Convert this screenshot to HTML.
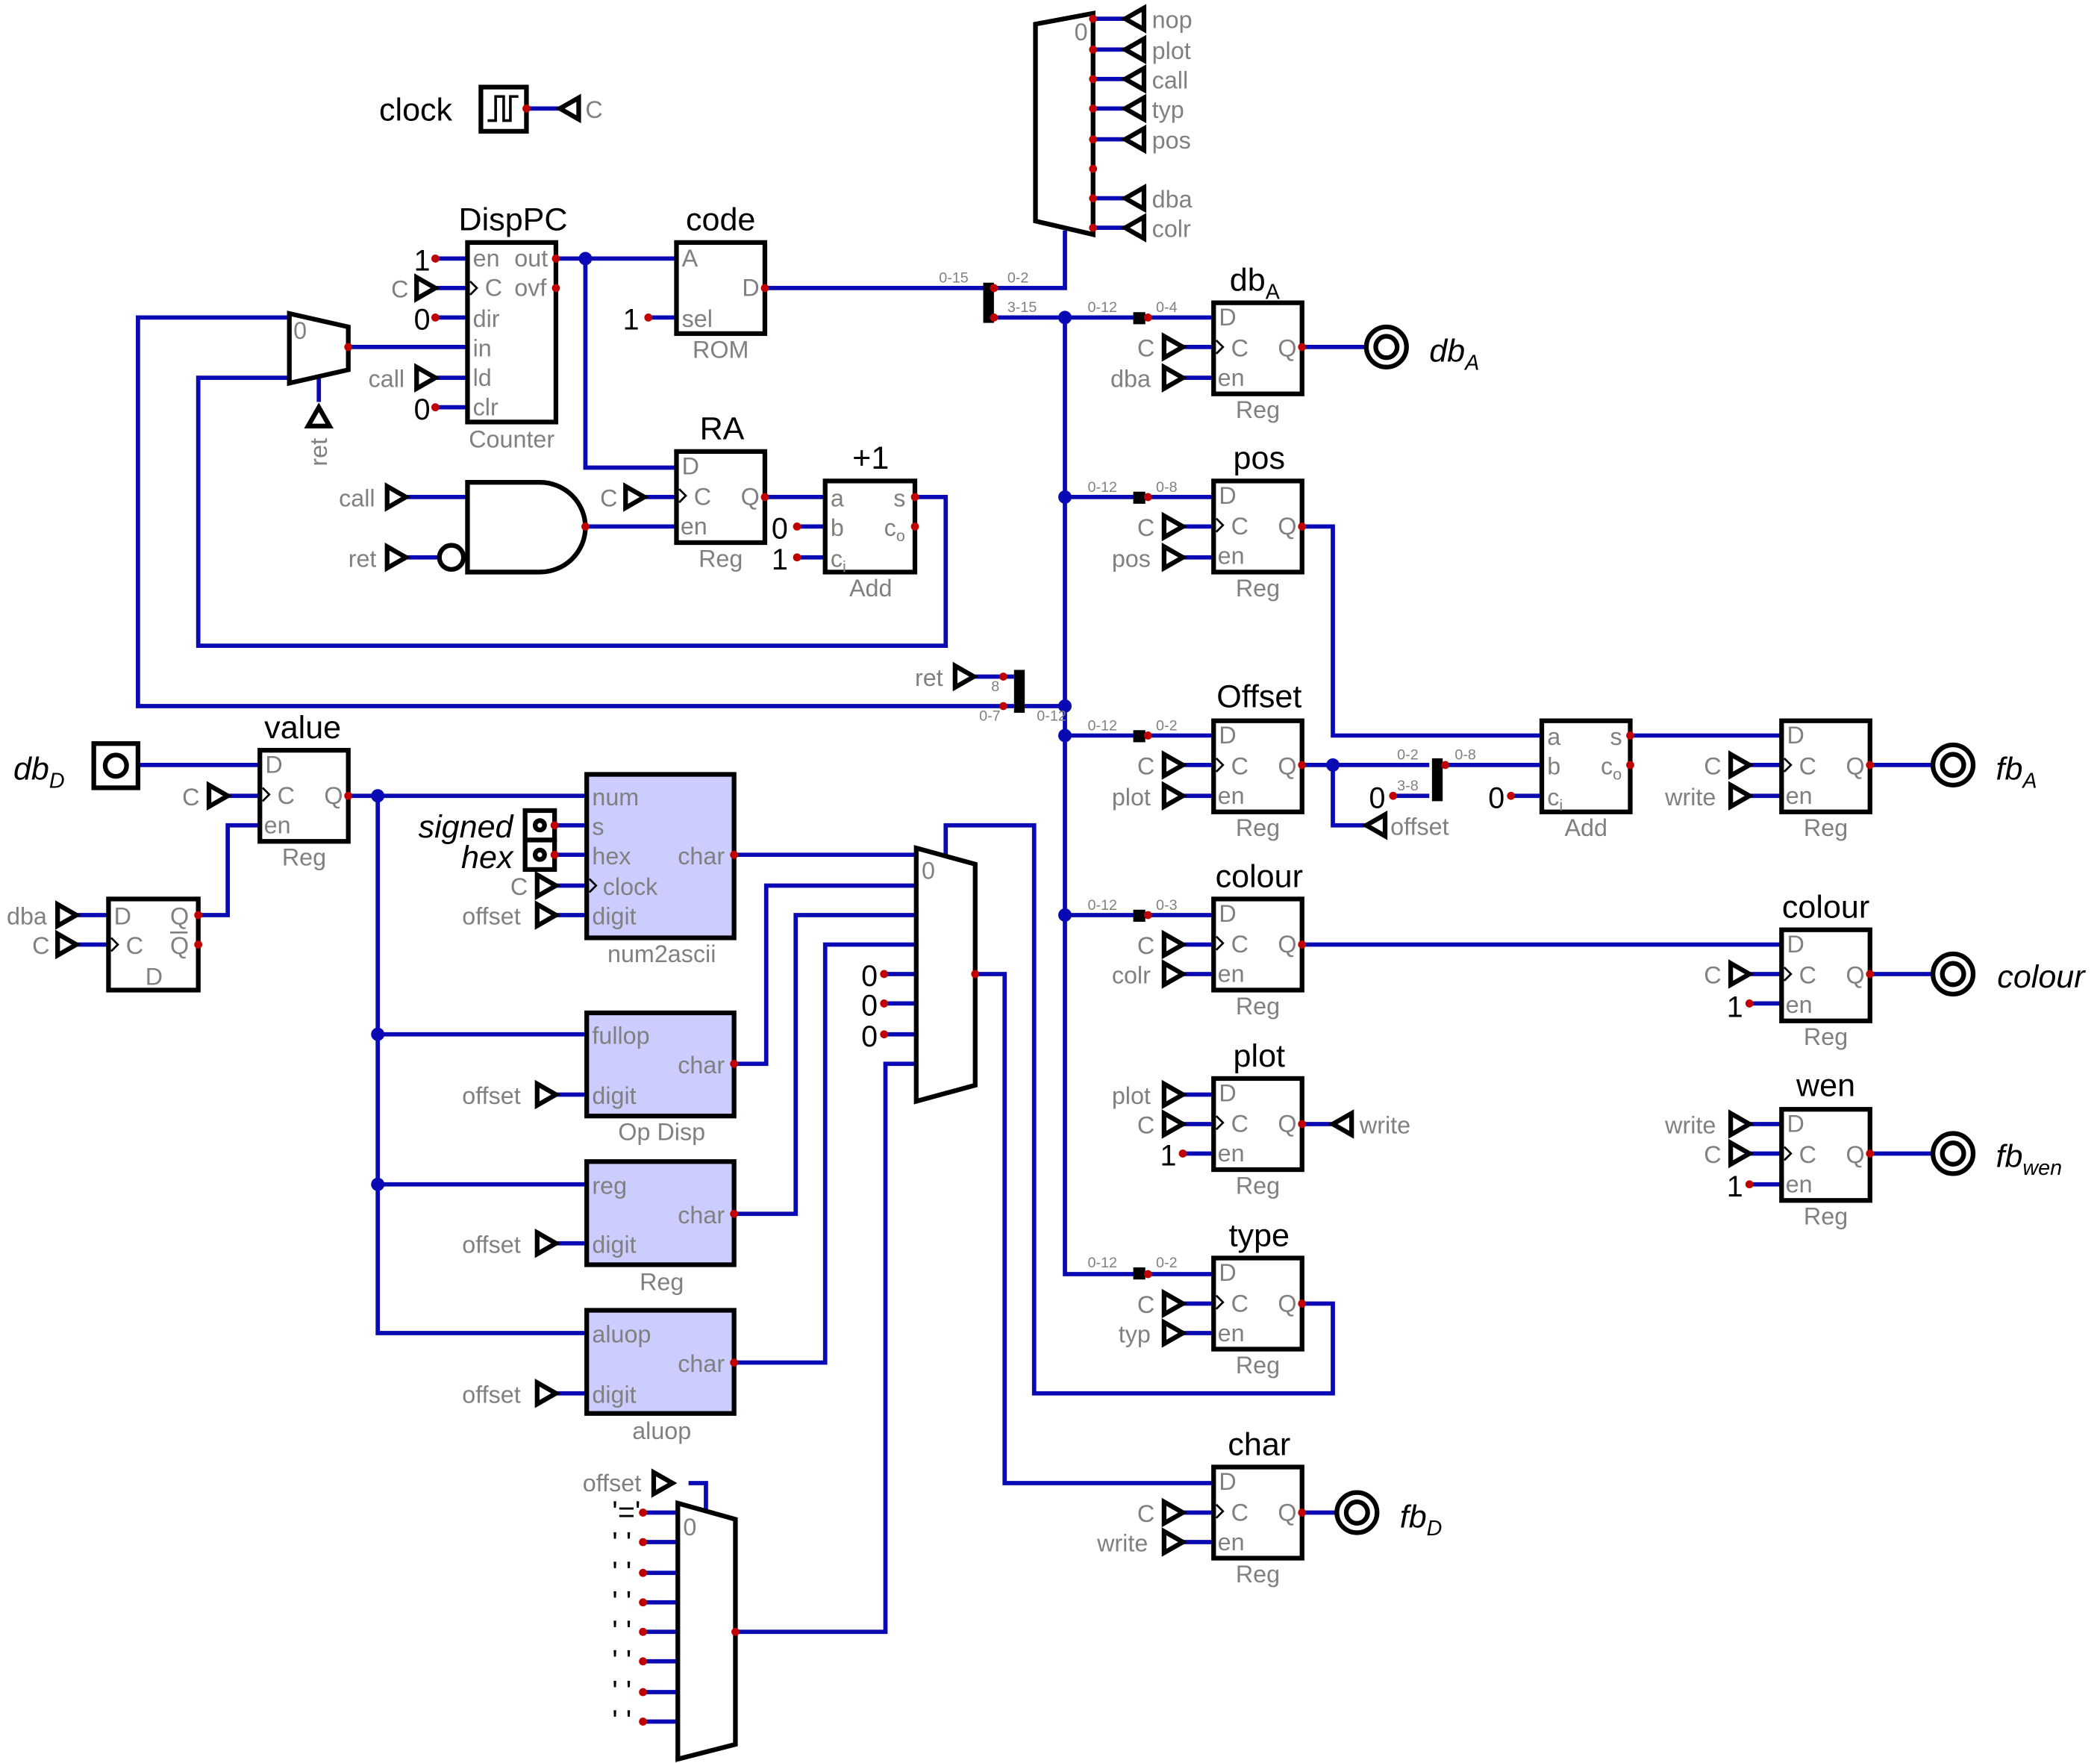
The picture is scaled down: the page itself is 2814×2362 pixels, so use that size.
<!DOCTYPE html>
<html><head><meta charset="utf-8"><style>
html,body{margin:0;padding:0;background:#fff}
svg{display:block}
text{font-family:"Liberation Sans",sans-serif}
.w{stroke:#0a0ab4;stroke-width:3.2;fill:none}
.b{stroke:#000;stroke-width:3.5;fill:#fff}
.bp{stroke:#000;stroke-width:3.5;fill:#ccccff}
.g{fill:#808080;font-size:18px}
.t{fill:#000;font-size:24px}
.s{fill:#808080;font-size:11px}
.k{fill:#000;font-size:22px}
.i{font-style:italic;fill:#000;font-size:24px}
</style></head><body>
<svg width="2814" height="2362" viewBox="0 0 1567.7 1315.9" xmlns="http://www.w3.org/2000/svg">
<defs>
<polygon id="tr" points="0,-8 14,0 0,8" fill="#fff" stroke="#000" stroke-width="3.5"/>
<polygon id="tl" points="14,-8 0,0 14,8" fill="#fff" stroke="#000" stroke-width="3.5"/>
<circle id="rd" r="3" fill="#c00000"/>
<circle id="bd" r="5" fill="#0a0ab4"/>
<g id="reg">
<rect x="0" y="0" width="66" height="68" class="b"/>
<text x="4" y="17" class="g">D</text><text x="13" y="40" class="g">C</text><text x="48" y="40" class="g">Q</text><text x="3" y="62" class="g">en</text>
<polyline points="2,28 7,33 2,38" fill="none" stroke="#000" stroke-width="1.5"/>
<text x="33" y="86" class="g" text-anchor="middle">Reg</text>
</g>
</defs>

<g class="w">
<line x1="393" y1="81" x2="418" y2="81"/>
<path d="M816,14H840M816,37H840M816,59H840M816,81H840M816,104H840M816,126H818M816,148H840M816,170H840"/>
<path d="M795,172V215H742"/>
<path d="M571,215H737"/>
<path d="M484,237H505"/>
<path d="M325,193H349M325,215H349M325,237H349M260,259H349M325,282H349M325,304H349"/>
<path d="M415,193H505M437,193V349H505"/>
<path d="M216,237H103V527H757"/>
<path d="M216,282H148V482H706V371H683"/>
<path d="M238,282V300"/>
<path d="M303,371H349M303,416H328M437,393H505"/>
<path d="M481,371H505M571,371H616M595,393H616M595,416H616"/>
<path d="M742,237H906M795,237V951H906M795,371H906M795,549H906M795,683H906M765,527H795M727,505H757"/>
<path d="M883,259H906M883,282H906M883,393H906M883,416H906M883,571H906M883,594H906M883,705H906M883,727H906M883,817H906M883,839H906M883,861H906M883,973H906M883,995H906M883,1129H906M883,1151H906"/>
<path d="M972,259H1020"/>
<path d="M972,393H995V549H1151"/>
<path d="M972,571H1067M995,571V616H1020M1040,594H1067M1077,571H1151M1128,594H1151"/>
<path d="M1217,549H1330M1306,571H1330M1306,594H1330M1396,571H1443"/>
<path d="M972,705H1330M1306,727H1330M1306,749H1330M1396,727H1443"/>
<path d="M972,839H995"/>
<path d="M1306,839H1330M1306,861H1330M1306,884H1330M1396,861H1443"/>
<path d="M972,973H995V1040H772V616H706V638"/>
<path d="M728,727H750V1107H906M972,1129H998"/>
<path d="M103,571H194M170,594H194M148,683H170V616H194M260,594H438M282,594V995H438M282,772H438M282,884H438"/>
<path d="M57,683H81M57,705H81"/>
<path d="M414,616H438M414,638H438M415,661H438M415,683H438M415,817H438M415,928H438M415,1040H438"/>
<path d="M548,638H684M548,794H572V661H684M548,906H594V683H684M548,1017H616V705H684M660,727H684M660,749H684M660,772H684M684,794H661V1218H549"/>
<path d="M480,1129H506M480,1151H506M480,1174H506M480,1196H506M480,1218H506M480,1240H506M480,1263H506M480,1285H506"/>
<path d="M514,1107H527V1128"/>
</g>
<g>
<use href="#bd" x="437" y="193"/><use href="#bd" x="795" y="237"/><use href="#bd" x="795" y="371"/><use href="#bd" x="795" y="527"/><use href="#bd" x="795" y="549"/><use href="#bd" x="795" y="683"/><use href="#bd" x="995" y="571"/><use href="#bd" x="282" y="594"/><use href="#bd" x="282" y="772"/><use href="#bd" x="282" y="884"/>
</g>
<g fill="#000">
<rect x="734" y="211" width="8" height="30"/>
<rect x="757" y="500" width="8" height="32"/>
<rect x="1069" y="566" width="8" height="32"/>
<rect x="846" y="233" width="9" height="9"/><rect x="846" y="367" width="9" height="9"/><rect x="846" y="545" width="9" height="9"/><rect x="846" y="679" width="9" height="9"/><rect x="846" y="946" width="9" height="9"/>
</g>
<g class="s">
<text x="701" y="211">0-15</text><text x="752" y="211">0-2</text><text x="752" y="233">3-15</text>
<text x="812" y="233">0-12</text><text x="863" y="233">0-4</text>
<text x="812" y="367">0-12</text><text x="863" y="367">0-8</text>
<text x="812" y="545">0-12</text><text x="863" y="545">0-2</text>
<text x="812" y="679">0-12</text><text x="863" y="679">0-3</text>
<text x="812" y="946">0-12</text><text x="863" y="946">0-2</text>
<text x="740" y="516">8</text><text x="731" y="538">0-7</text><text x="774" y="538">0-12</text>
<text x="1043" y="567">0-2</text><text x="1043" y="590">3-8</text><text x="1086" y="567">0-8</text>
</g>

<rect x="359" y="65" width="34" height="33" class="b"/>
<polyline points="364,90 370,90 370,72 376,72 376,90 381,90 381,72 387,72" fill="none" stroke="#000" stroke-width="2"/>
<text x="283" y="90" class="t">clock</text>
<use href="#tl" x="418" y="81"/><text x="437" y="88" class="g">C</text>

<polygon points="773,18 816,10 816,175 773,165" class="b"/>
<text x="802" y="30" class="g">0</text>
<use href="#tl" x="840" y="14"/><use href="#tl" x="840" y="37"/><use href="#tl" x="840" y="59"/><use href="#tl" x="840" y="81"/><use href="#tl" x="840" y="104"/><use href="#tl" x="840" y="148"/><use href="#tl" x="840" y="170"/>
<g class="g"><text x="860" y="21">nop</text><text x="860" y="44">plot</text><text x="860" y="66">call</text><text x="860" y="88">typ</text><text x="860" y="111">pos</text><text x="860" y="155">dba</text><text x="860" y="177">colr</text></g>

<rect x="505" y="181" width="66" height="68" class="b"/>
<text x="538" y="172" class="t" text-anchor="middle">code</text>
<g class="g"><text x="509" y="199">A</text><text x="554" y="221">D</text><text x="509" y="244">sel</text><text x="538" y="267" text-anchor="middle">ROM</text></g>
<text x="465" y="246" class="k">1</text>

<rect x="349" y="181" width="66" height="134" class="b"/>
<text x="383" y="172" class="t" text-anchor="middle">DispPC</text>
<g class="g"><text x="353" y="199">en</text><text x="384" y="199">out</text><text x="362" y="221">C</text><text x="384" y="221">ovf</text><text x="353" y="244">dir</text><text x="353" y="266">in</text><text x="353" y="288">ld</text><text x="353" y="310">clr</text><text x="382" y="334" text-anchor="middle">Counter</text>
<text x="292" y="222">C</text><text x="275" y="289">call</text></g>
<polyline points="351,210 356,215 351,220" fill="none" stroke="#000" stroke-width="1.5"/>
<text x="309" y="202" class="k">1</text><text x="309" y="246" class="k">0</text><text x="309" y="313" class="k">0</text>
<use href="#tr" x="311" y="215"/><use href="#tr" x="311" y="282"/>

<polygon points="216,234 260,244 260,276 216,286" class="b"/>
<text x="219" y="253" class="g">0</text>
<polygon points="230,318 238,304 246,318" fill="#fff" stroke="#000" stroke-width="3.5"/>
<text x="244" y="348" class="g" transform="rotate(-90 244 348)">ret</text>

<path d="M349,360H403A34,33.5 0 0 1 403,427H349Z" class="b"/>
<circle cx="337" cy="416" r="9" class="b"/>
<use href="#tr" x="289" y="371"/><use href="#tr" x="289" y="416"/>
<g class="g"><text x="253" y="378">call</text><text x="260" y="423">ret</text></g>

<use href="#reg" x="505" y="337"/>
<text x="539" y="328" class="t" text-anchor="middle">RA</text>
<use href="#tr" x="467" y="371"/><text x="448" y="378" class="g">C</text>

<rect x="616" y="359" width="67" height="68" class="b"/>
<text x="650" y="350" class="t" text-anchor="middle">+1</text>
<g class="g"><text x="620" y="378">a</text><text x="620" y="400">b</text><text x="620" y="423">c<tspan font-size="12" dy="4">i</tspan></text><text x="667" y="378">s</text><text x="660" y="400">c<tspan font-size="12" dy="4">o</tspan></text><text x="650" y="445" text-anchor="middle">Add</text></g>
<text x="576" y="402" class="k">0</text><text x="576" y="425" class="k">1</text>

<use href="#tr" x="713" y="505"/><text x="683" y="512" class="g">ret</text>

<use href="#reg" x="906" y="226"/>
<text x="918" y="217" class="t">db<tspan font-size="16" dy="6">A</tspan></text>
<use href="#tr" x="869" y="259"/><use href="#tr" x="869" y="282"/>
<g class="g"><text x="849" y="266">C</text><text x="829" y="289">dba</text></g>
<circle cx="1035" cy="259" r="15" class="b"/><circle cx="1035" cy="259" r="8" class="b"/>
<text x="1067" y="270" class="i">db<tspan font-size="16" dy="6">A</tspan></text>

<use href="#reg" x="906" y="359"/>
<text x="940" y="350" class="t" text-anchor="middle">pos</text>
<use href="#tr" x="869" y="393"/><use href="#tr" x="869" y="416"/>
<g class="g"><text x="849" y="400">C</text><text x="830" y="423">pos</text></g>

<use href="#reg" x="906" y="538"/>
<text x="940" y="528" class="t" text-anchor="middle">Offset</text>
<use href="#tr" x="869" y="571"/><use href="#tr" x="869" y="594"/>
<g class="g"><text x="849" y="578">C</text><text x="830" y="601">plot</text></g>
<use href="#tl" x="1020" y="616"/><text x="1038" y="623" class="g">offset</text>
<text x="1022" y="603" class="k">0</text>

<rect x="1151" y="538" width="66" height="68" class="b"/>
<g class="g"><text x="1155" y="556">a</text><text x="1155" y="578">b</text><text x="1155" y="601">c<tspan font-size="12" dy="4">i</tspan></text><text x="1202" y="556">s</text><text x="1195" y="578">c<tspan font-size="12" dy="4">o</tspan></text><text x="1184" y="624" text-anchor="middle">Add</text></g>
<text x="1111" y="603" class="k">0</text>

<use href="#reg" x="1330" y="538"/>
<use href="#tr" x="1292" y="571"/><use href="#tr" x="1292" y="594"/>
<g class="g"><text x="1272" y="578">C</text><text x="1243" y="601">write</text></g>
<circle cx="1458" cy="571" r="15" class="b"/><circle cx="1458" cy="571" r="8" class="b"/>
<text x="1490" y="582" class="i">fb<tspan font-size="16" dy="6">A</tspan></text>

<use href="#reg" x="906" y="671"/>
<text x="940" y="662" class="t" text-anchor="middle">colour</text>
<use href="#tr" x="869" y="705"/><use href="#tr" x="869" y="727"/>
<g class="g"><text x="849" y="712">C</text><text x="830" y="734">colr</text></g>

<use href="#reg" x="1330" y="694"/>
<text x="1363" y="685" class="t" text-anchor="middle">colour</text>
<use href="#tr" x="1292" y="727"/><text x="1272" y="734" class="g">C</text>
<text x="1289" y="759" class="k">1</text>
<circle cx="1458" cy="727" r="15" class="b"/><circle cx="1458" cy="727" r="8" class="b"/>
<text x="1491" y="737" class="i">colour</text>

<use href="#reg" x="906" y="805"/>
<text x="940" y="796" class="t" text-anchor="middle">plot</text>
<use href="#tr" x="869" y="817"/><use href="#tr" x="869" y="839"/>
<g class="g"><text x="830" y="824">plot</text><text x="849" y="846">C</text></g>
<text x="866" y="870" class="k">1</text>
<use href="#tl" x="995" y="839"/><text x="1015" y="846" class="g">write</text>

<use href="#reg" x="1330" y="828"/>
<text x="1363" y="818" class="t" text-anchor="middle">wen</text>
<use href="#tr" x="1292" y="839"/><use href="#tr" x="1292" y="861"/>
<g class="g"><text x="1243" y="846">write</text><text x="1272" y="868">C</text></g>
<text x="1289" y="893" class="k">1</text>
<circle cx="1458" cy="861" r="15" class="b"/><circle cx="1458" cy="861" r="8" class="b"/>
<text x="1490" y="871" class="i">fb<tspan font-size="16" dy="6">wen</tspan></text>

<use href="#reg" x="906" y="939"/>
<text x="940" y="930" class="t" text-anchor="middle">type</text>
<use href="#tr" x="869" y="973"/><use href="#tr" x="869" y="995"/>
<g class="g"><text x="849" y="980">C</text><text x="835" y="1002">typ</text></g>

<use href="#reg" x="906" y="1095"/>
<text x="940" y="1086" class="t" text-anchor="middle">char</text>
<use href="#tr" x="869" y="1129"/><use href="#tr" x="869" y="1151"/>
<g class="g"><text x="849" y="1136">C</text><text x="819" y="1158">write</text></g>
<circle cx="1013" cy="1129" r="15" class="b"/><circle cx="1013" cy="1129" r="8" class="b"/>
<text x="1045" y="1140" class="i">fb<tspan font-size="16" dy="6">D</tspan></text>

<rect x="70" y="555" width="33" height="33" class="b"/><circle cx="86.5" cy="571.5" r="8" class="b"/>
<text x="10" y="582" class="i">db<tspan font-size="16" dy="6">D</tspan></text>
<use href="#reg" x="194" y="560"/>
<text x="226" y="551" class="t" text-anchor="middle">value</text>
<use href="#tr" x="156" y="594"/><text x="136" y="601" class="g">C</text>

<rect x="81" y="671" width="67" height="68" class="b"/>
<g class="g"><text x="85" y="690">D</text><text x="94" y="712">C</text><text x="127" y="690">Q</text><text x="127" y="712">Q</text><text x="115" y="735" text-anchor="middle">D</text></g>
<line x1="127" y1="696" x2="140" y2="696" stroke="#808080" stroke-width="1.5"/>
<polyline points="83,700 88,705 83,710" fill="none" stroke="#000" stroke-width="1.5"/>
<use href="#tr" x="43" y="683"/><use href="#tr" x="43" y="705"/>
<g class="g"><text x="5" y="690">dba</text><text x="24" y="712">C</text></g>

<rect x="438" y="578" width="110" height="122" class="bp"/>
<g class="g"><text x="442" y="601">num</text><text x="442" y="623">s</text><text x="442" y="645">hex</text><text x="450" y="668">clock</text><text x="442" y="690">digit</text><text x="506" y="645">char</text><text x="494" y="718" text-anchor="middle">num2ascii</text></g>
<polyline points="440,656 445,661 440,666" fill="none" stroke="#000" stroke-width="1.5"/>
<rect x="392" y="605" width="22" height="22" class="b"/><circle cx="403" cy="616" r="3.5" class="b" stroke-width="2"/>
<rect x="392" y="627" width="22" height="22" class="b"/><circle cx="403" cy="638" r="3.5" class="b" stroke-width="2"/>
<text x="383" y="625" class="i" text-anchor="end">signed</text><text x="383" y="648" class="i" text-anchor="end">hex</text>
<use href="#tr" x="401" y="661"/><use href="#tr" x="401" y="683"/>
<g class="g"><text x="381" y="668">C</text><text x="345" y="690">offset</text></g>

<rect x="438" y="756" width="110" height="77" class="bp"/>
<g class="g"><text x="442" y="779">fullop</text><text x="506" y="801">char</text><text x="442" y="824">digit</text><text x="494" y="851" text-anchor="middle">Op  Disp</text></g>
<use href="#tr" x="401" y="817"/><text x="345" y="824" class="g">offset</text>
<rect x="438" y="867" width="110" height="77" class="bp"/>
<g class="g"><text x="442" y="891">reg</text><text x="506" y="913">char</text><text x="442" y="935">digit</text><text x="494" y="963" text-anchor="middle">Reg</text></g>
<use href="#tr" x="401" y="928"/><text x="345" y="935" class="g">offset</text>
<rect x="438" y="978" width="110" height="77" class="bp"/>
<g class="g"><text x="442" y="1002">aluop</text><text x="506" y="1024">char</text><text x="442" y="1047">digit</text><text x="494" y="1074" text-anchor="middle">aluop</text></g>
<use href="#tr" x="401" y="1040"/><text x="345" y="1047" class="g">offset</text>

<polygon points="684,633 728,645 728,810 684,822" class="b"/>
<text x="688" y="656" class="g">0</text>
<text x="643" y="736" class="k">0</text><text x="643" y="758" class="k">0</text><text x="643" y="781" class="k">0</text>

<polygon points="506,1122 549,1134 549,1302 506,1313" class="b"/>
<text x="510" y="1146" class="g">0</text>
<use href="#tr" x="488" y="1107"/><text x="435" y="1113" class="g">offset</text>
<g class="k" font-size="18"><text x="457" y="1136">'='</text>
<text x="457" y="1159">'  '</text><text x="457" y="1181">'  '</text><text x="457" y="1203">'  '</text><text x="457" y="1225">'  '</text><text x="457" y="1247">'  '</text><text x="457" y="1270">'  '</text><text x="457" y="1292">'  '</text></g>

<g>
<use href="#rd" x="393" y="81"/><use href="#rd" x="571" y="215"/><use href="#rd" x="484" y="237"/><use href="#rd" x="415" y="193"/><use href="#rd" x="415" y="215"/><use href="#rd" x="325" y="193"/><use href="#rd" x="325" y="237"/><use href="#rd" x="325" y="304"/><use href="#rd" x="260" y="259"/><use href="#rd" x="437" y="393"/><use href="#rd" x="571" y="371"/><use href="#rd" x="683" y="371"/><use href="#rd" x="683" y="393"/><use href="#rd" x="595" y="393"/><use href="#rd" x="595" y="416"/>
<use href="#rd" x="742" y="215"/><use href="#rd" x="742" y="237"/><use href="#rd" x="857" y="237"/><use href="#rd" x="857" y="371"/><use href="#rd" x="857" y="549"/><use href="#rd" x="857" y="683"/><use href="#rd" x="857" y="951"/><use href="#rd" x="749" y="527"/><use href="#rd" x="749" y="505"/>
<use href="#rd" x="972" y="259"/><use href="#rd" x="972" y="393"/><use href="#rd" x="972" y="571"/><use href="#rd" x="972" y="705"/><use href="#rd" x="972" y="839"/><use href="#rd" x="972" y="973"/><use href="#rd" x="972" y="1129"/><use href="#rd" x="1217" y="549"/><use href="#rd" x="1217" y="571"/><use href="#rd" x="1396" y="571"/><use href="#rd" x="1396" y="727"/><use href="#rd" x="1396" y="861"/><use href="#rd" x="1079" y="571"/><use href="#rd" x="1040" y="594"/><use href="#rd" x="1128" y="594"/><use href="#rd" x="1306" y="749"/><use href="#rd" x="1306" y="884"/><use href="#rd" x="883" y="861"/>
<use href="#rd" x="816" y="14"/><use href="#rd" x="816" y="37"/><use href="#rd" x="816" y="59"/><use href="#rd" x="816" y="81"/><use href="#rd" x="816" y="104"/><use href="#rd" x="816" y="126"/><use href="#rd" x="816" y="148"/><use href="#rd" x="816" y="170"/>
<use href="#rd" x="260" y="594"/><use href="#rd" x="148" y="683"/><use href="#rd" x="148" y="705"/><use href="#rd" x="414" y="616"/><use href="#rd" x="414" y="638"/><use href="#rd" x="548" y="638"/><use href="#rd" x="548" y="794"/><use href="#rd" x="548" y="906"/><use href="#rd" x="548" y="1017"/><use href="#rd" x="728" y="727"/><use href="#rd" x="660" y="727"/><use href="#rd" x="660" y="749"/><use href="#rd" x="660" y="772"/><use href="#rd" x="549" y="1218"/>
<use href="#rd" x="480" y="1129"/><use href="#rd" x="480" y="1151"/><use href="#rd" x="480" y="1174"/><use href="#rd" x="480" y="1196"/><use href="#rd" x="480" y="1218"/><use href="#rd" x="480" y="1240"/><use href="#rd" x="480" y="1263"/><use href="#rd" x="480" y="1285"/>
</g>
</svg>
</body></html>
